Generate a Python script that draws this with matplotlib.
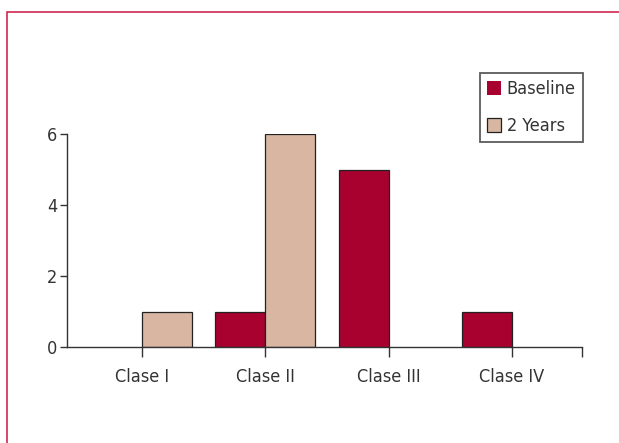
import numpy as np
import matplotlib
matplotlib.use("Agg")
import matplotlib.pyplot as plt
from matplotlib.patches import Rectangle

plt.rcParams['font.family'] = ['Liberation Sans Narrow', 'DejaVu Sans']
plt.rcParams['font.stretch'] = 'condensed'

categories = ["Clase I", "Clase II", "Clase III", "Clase IV"]
baseline = [0, 1, 5, 1]
two_years = [1, 6, 0, 0]
series_names = ["Baseline", "2 Years"]

c_base = "#A8002F"
c_2y = "#D8B6A2"
txt = "#333333"

fig = plt.figure(figsize=(6.19, 4.43), dpi=100)
# crimson frame, cut off at right and bottom like the source
fig.patches.append(Rectangle((7 / 619, -0.1), 1.2, 1 - 12 / 443 + 0.1,
                             transform=fig.transFigure, fill=False,
                             edgecolor="#D02850", lw=1.2))

ax = fig.add_axes([67 / 619, 1 - 347 / 443, (582 - 67) / 619, (347 - 134) / 443])
x = np.arange(len(categories))
w = 0.405
ax.bar(x - w / 2, baseline, w, color=c_base, edgecolor="#222222",
       linewidth=[0.9 if v else 0 for v in baseline], label=series_names[0])
ax.bar(x + w / 2, two_years, w, color=c_2y, edgecolor="#222222",
       linewidth=[0.9 if v else 0 for v in two_years], label=series_names[1])

ax.set_xlim(-0.61, 3.57)
ax.set_ylim(0, 6)
ax.set_yticks([0, 2, 4, 6])
ax.set_xticks(list(x) + [3.57])
ax.set_xticklabels(categories + [""])
for s in ["top", "right"]:
    ax.spines[s].set_visible(False)
for s in ["left", "bottom"]:
    ax.spines[s].set_color(txt)
    ax.spines[s].set_linewidth(1.0)
ax.tick_params(axis="y", length=5, width=1, color=txt, labelcolor=txt,
               labelsize=13, pad=2)
ax.tick_params(axis="x", length=7, width=1, color=txt, labelcolor=txt,
               labelsize=13, pad=8)

leg = ax.legend(loc="upper right", bbox_to_anchor=(583 / 619, 1 - 73 / 443),
                bbox_transform=fig.transFigure, frameon=True, fancybox=False,
                fontsize=13, handlelength=0.8, handleheight=0.8,
                handletextpad=0.3, labelspacing=1.05, borderpad=0.4,
                borderaxespad=0)
leg.get_frame().set_edgecolor("#333333")
leg.get_frame().set_linewidth(1.3)
for t in leg.get_texts():
    t.set_color(txt)

fig.savefig("out.png", dpi=100, facecolor="white")
